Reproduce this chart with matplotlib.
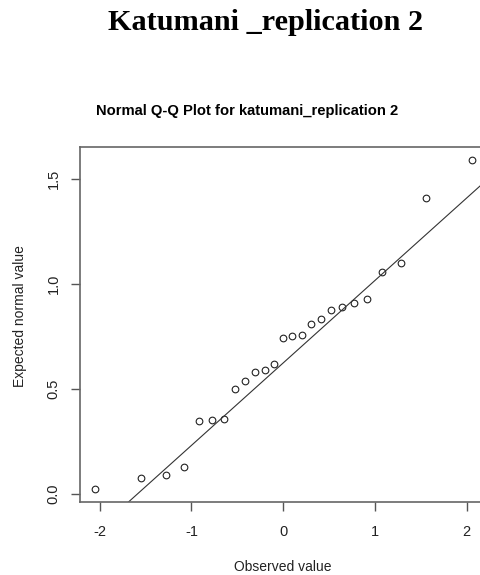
import matplotlib.pyplot as plt
import numpy as np

# theoretical normal quantiles (x) and sample values (y)
observed = [-2.054, -1.555, -1.282, -1.080, -0.915, -0.772, -0.643, -0.524,
            -0.412, -0.305, -0.202, -0.100, 0.000, 0.100, 0.202, 0.305,
            0.412, 0.524, 0.643, 0.772, 0.915, 1.080, 1.282, 1.555, 2.054]
expected = [0.025, 0.075, 0.089, 0.130, 0.346, 0.351, 0.359, 0.498,
            0.538, 0.579, 0.589, 0.619, 0.741, 0.752, 0.759, 0.808,
            0.832, 0.876, 0.889, 0.911, 0.930, 1.056, 1.100, 1.411, 1.590]
x_ticks = [-2, -1, 0, 1, 2]
y_ticks = [0.0, 0.5, 1.0, 1.5]

fig = plt.figure(figsize=(4.81, 5.75), dpi=100)
# axes runs slightly past the right edge, like the cropped original
ax = fig.add_axes([0.1653, 0.1275, 0.847, 0.6174])

ax.plot(observed, expected, 'o', mfc='none', mec='#222222', ms=4.8, mew=0.8)

# qqline through the quartiles
q1, q3 = np.quantile(expected, [0.25, 0.75])
z = 0.6745
slope = (q3 - q1) / (2 * z)
intercept = q1 + slope * z
xs = np.array([-2.3, 2.3])
ax.plot(xs, intercept + slope * xs, color='#333333', lw=0.8)

ax.set_xlim(-2.22, 2.22)
ax.set_ylim(-0.037, 1.654)
ax.set_xticks(x_ticks)
ax.set_xticklabels([str(t) for t in x_ticks])
ax.set_yticks(y_ticks)
ax.set_yticklabels(['%.1f' % t for t in y_ticks], rotation=90, va='center')

for s in ax.spines.values():
    s.set_color('#666666')
    s.set_linewidth(1.2)
ax.tick_params(axis='both', colors='#555555', labelcolor='#222222',
               length=6.5, width=1.0, labelsize=10.5,
               labelfontfamily='Liberation Sans')
ax.tick_params(axis='x', pad=10)
ax.tick_params(axis='y', pad=7)

fig.text(283 / 481, 1 - 567 / 575, 'Observed value', ha='center', va='center',
         fontsize=10, family='Liberation Sans', color='#222222')
fig.text(20 / 481, 1 - 316 / 575, 'Expected normal value', ha='center',
         va='center', rotation=90, fontsize=10, family='Liberation Sans',
         color='#222222')

fig.text(266 / 481, 1 - 23 / 575, 'Katumani _replication 2', ha='center',
         va='center', fontsize=21.8, fontweight='bold', family='Liberation Serif')
fig.text(247 / 481, 1 - 111 / 575, 'Normal Q-Q Plot for katumani_replication 2',
         ha='center', va='center', fontsize=10.6, fontweight='bold',
         family='Liberation Sans')

fig.savefig('out.png', dpi=100)
